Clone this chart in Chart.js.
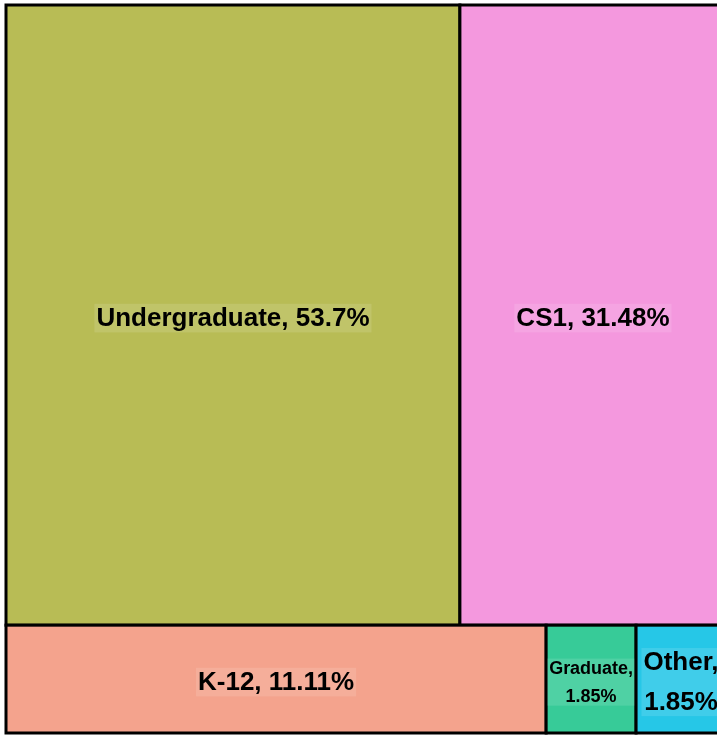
<!DOCTYPE html>
<html>
<head>
<meta charset="utf-8">
<script src="https://cdn.jsdelivr.net/npm/chart.js@4.4.0/dist/chart.umd.min.js"></script>
<style>
  html, body { margin: 0; padding: 0; background: #fff; overflow: hidden; }
  #wrap { position: absolute; left: 0; top: 0; width: 736px; height: 735px; }
</style>
</head>
<body>
<div id="wrap"><canvas id="treeChart"></canvas></div>
<script>
// 카테고리와 값 (퍼센트)
const categories = ['Undergraduate', 'CS1', 'K-12', 'Graduate', 'Other'];
const shares = [53.7, 31.48, 11.11, 1.85, 1.85];
const tileColors = ['#B8BC55', '#F498DE', '#F4A38D', '#37CB98', '#26C7E7'];

// d3 스타일 squarify (황금비) 레이아웃
function squarify(values, x0, y0, x1, y1) {
    const ratio = (1 + Math.sqrt(5)) / 2;
    const rects = [];
    let total = values.reduce((a, b) => a + b, 0);
    let i0 = 0, i1 = 0;
    const n = values.length;
    while (i0 < n) {
        const dx = x1 - x0, dy = y1 - y0;
        let sum = values[i1++];
        let minV = sum, maxV = sum;
        const alpha = Math.max(dy / dx, dx / dy) / (total * ratio);
        let beta = sum * sum * alpha;
        let minRatio = Math.max(maxV / beta, beta / minV);
        for (; i1 < n; ++i1) {
            const v = values[i1];
            sum += v;
            if (v < minV) minV = v;
            if (v > maxV) maxV = v;
            beta = sum * sum * alpha;
            const newRatio = Math.max(maxV / beta, beta / minV);
            if (newRatio > minRatio) { sum -= v; break; }
            minRatio = newRatio;
        }
        const dice = dx < dy;
        if (dice) {
            const ry1 = y0 + dy * sum / total;
            let cx = x0;
            for (let i = i0; i < i1; i++) {
                const w = dx * values[i] / sum;
                rects[i] = { x0: cx, y0: y0, x1: cx + w, y1: ry1 };
                cx += w;
            }
            y0 = ry1;
        } else {
            const rx1 = x0 + dx * sum / total;
            let cy = y0;
            for (let i = i0; i < i1; i++) {
                const h = dy * values[i] / sum;
                rects[i] = { x0: x0, y0: cy, x1: rx1, y1: cy + h };
                cy += h;
            }
            x0 = rx1;
        }
        total -= sum;
        i0 = i1;
    }
    return rects;
}

// 트리맵 그리기 플러그인
const treemapPlugin = {
    id: 'treemapTiles',
    afterDatasetsDraw(chart) {
        const ctx = chart.ctx;
        const xs = chart.scales.x, ys = chart.scales.y;
        const area = chart.chartArea;
        // 픽셀 비율로 레이아웃 계산 후 0..1 데이터 단위로 변환
        const W = area.right - area.left, H = area.bottom - area.top;
        const rects = squarify(shares, 0, 0, W, H).map(r => ({
            x0: r.x0 / W, x1: r.x1 / W, y0: r.y0 / H, y1: r.y1 / H
        }));

        ctx.save();
        rects.forEach((r, i) => {
            const px0 = xs.getPixelForValue(r.x0), px1 = xs.getPixelForValue(r.x1);
            const py0 = ys.getPixelForValue(r.y0), py1 = ys.getPixelForValue(r.y1);
            ctx.fillStyle = tileColors[i];
            ctx.fillRect(px0, py0, px1 - px0, py1 - py0);
            ctx.lineWidth = 3;
            ctx.strokeStyle = '#000';
            ctx.strokeRect(px0, py0, px1 - px0, py1 - py0);

            // 라벨
            const text = categories[i] + ', ' + shares[i] + '%';
            const boxW = px1 - px0;
            const cx = (px0 + px1) / 2, cy = (py0 + py1) / 2 + 3;
            let size = 26;
            let lines = [text];
            ctx.font = 'bold ' + size + 'px "Liberation Sans", Arial, sans-serif';
            if (ctx.measureText(text).width > boxW - 8) {
                lines = [categories[i] + ',', shares[i] + '%'];
                const widest = Math.max(...lines.map(l => ctx.measureText(l).width));
                if (widest > boxW - 8) size = size * (boxW - 6) / widest;
                ctx.font = 'bold ' + size + 'px "Liberation Sans", Arial, sans-serif';
            }
            const lh = size * 1.52;
            const widest = Math.max(...lines.map(l => ctx.measureText(l).width));
            const blockH = lh * (lines.length - 1) + size * 1.1;
            ctx.fillStyle = 'rgba(255,255,255,0.12)';
            ctx.fillRect(cx - widest / 2 - 2, cy - blockH / 2, widest + 4, blockH);
            ctx.fillStyle = '#000';
            ctx.textAlign = 'center';
            ctx.textBaseline = 'middle';
            lines.forEach((l, k) => {
                const ly = cy + (k - (lines.length - 1) / 2) * lh;
                ctx.fillText(l, cx, ly + 1);
            });
        });
        ctx.restore();
    }
};

const chart = new Chart(document.getElementById('treeChart'), {
    type: 'scatter',
    data: { datasets: [{ data: [] }] },
    options: {
        responsive: true,
        maintainAspectRatio: false,
        animation: false,
        layout: { padding: { left: 6, top: 5, right: 10, bottom: 2 } },
        plugins: { legend: { display: false }, tooltip: { enabled: false } },
        scales: {
            x: { type: 'linear', min: 0, max: 1, display: false },
            y: { type: 'linear', min: 0, max: 1, reverse: true, display: false }
        }
    },
    plugins: [treemapPlugin]
});
</script>
</body>
</html>
